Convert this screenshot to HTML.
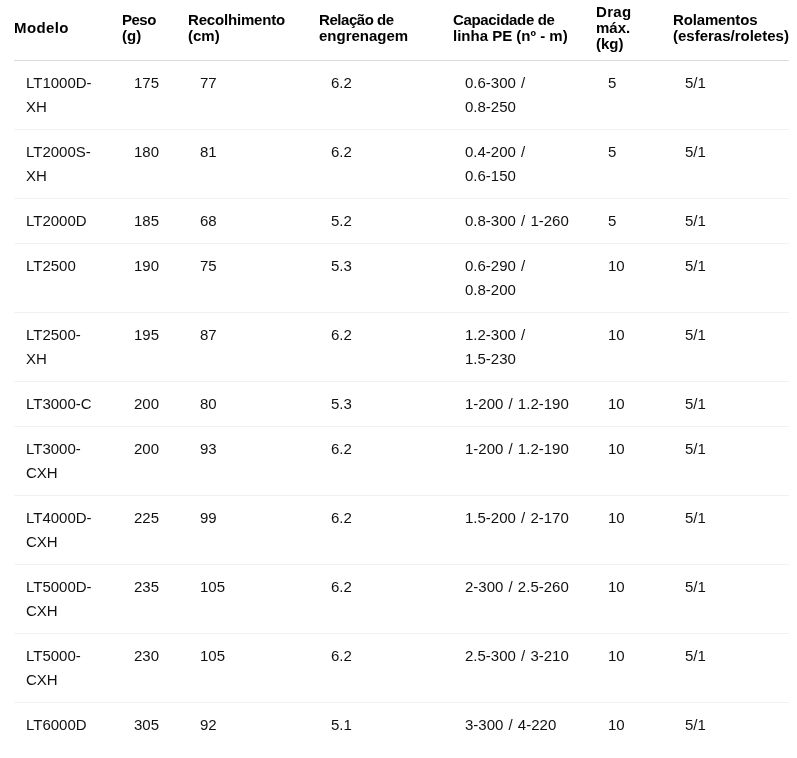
<!DOCTYPE html><html><head><meta charset="utf-8"><title>Tabela</title><style>
html,body{margin:0;padding:0;background:#fff;}
table{will-change:transform;}
body{width:797px;height:758px;overflow:hidden;position:relative;}
table{position:absolute;left:14px;top:-4px;border-collapse:collapse;table-layout:fixed;width:775px;
 font-family:"Liberation Sans",Arial,sans-serif;font-size:15px;}
th{font-weight:bold;color:#000;text-align:left;vertical-align:middle;line-height:16px;padding:8px 0 8px 0;border-bottom:1px solid #dcdcdc;white-space:nowrap;}
td{color:#111;word-spacing:1px;vertical-align:top;line-height:24px;padding:10px 0 10px 12px;border-bottom:1px solid #f2f2f2;white-space:nowrap;}
tr:last-child td{border-bottom:none;}
</style></head><body><table><colgroup>
<col style="width:108px">
<col style="width:66px">
<col style="width:131px">
<col style="width:134px">
<col style="width:143px">
<col style="width:77px">
<col style="width:116px">
</colgroup><thead><tr>
<th><span style="letter-spacing:0.4px">Modelo</span></th>
<th><span style="letter-spacing:-0.5px">Peso</span><br>(g)</th>
<th><span style="letter-spacing:-0.18px">Recolhimento</span><br>(cm)</th>
<th><span style="letter-spacing:-0.45px">Relação de</span><br>engrenagem</th>
<th><span style="letter-spacing:-0.33px">Capacidade de</span><br>linha PE (nº - m)</th>
<th><span style="letter-spacing:0.3px">Drag</span><br>máx.<br>(kg)</th>
<th><span style="letter-spacing:-0.15px">Rolamentos</span><br>(esferas/roletes)</th>
</tr></thead><tbody>
<tr><td>LT1000D-<br>XH</td><td>175</td><td>77</td><td>6.2</td><td>0.6-300 /<br>0.8-250</td><td>5</td><td>5/1</td></tr>
<tr><td>LT2000S-<br>XH</td><td>180</td><td>81</td><td>6.2</td><td>0.4-200 /<br>0.6-150</td><td>5</td><td>5/1</td></tr>
<tr><td>LT2000D</td><td>185</td><td>68</td><td>5.2</td><td>0.8-300 / 1-260</td><td>5</td><td>5/1</td></tr>
<tr><td>LT2500</td><td>190</td><td>75</td><td>5.3</td><td>0.6-290 /<br>0.8-200</td><td>10</td><td>5/1</td></tr>
<tr><td>LT2500-<br>XH</td><td>195</td><td>87</td><td>6.2</td><td>1.2-300 /<br>1.5-230</td><td>10</td><td>5/1</td></tr>
<tr><td>LT3000-C</td><td>200</td><td>80</td><td>5.3</td><td>1-200 / 1.2-190</td><td>10</td><td>5/1</td></tr>
<tr><td>LT3000-<br>CXH</td><td>200</td><td>93</td><td>6.2</td><td>1-200 / 1.2-190</td><td>10</td><td>5/1</td></tr>
<tr><td>LT4000D-<br>CXH</td><td>225</td><td>99</td><td>6.2</td><td>1.5-200 / 2-170</td><td>10</td><td>5/1</td></tr>
<tr><td>LT5000D-<br>CXH</td><td>235</td><td>105</td><td>6.2</td><td>2-300 / 2.5-260</td><td>10</td><td>5/1</td></tr>
<tr><td>LT5000-<br>CXH</td><td>230</td><td>105</td><td>6.2</td><td>2.5-300 / 3-210</td><td>10</td><td>5/1</td></tr>
<tr><td>LT6000D</td><td>305</td><td>92</td><td>5.1</td><td>3-300 / 4-220</td><td>10</td><td>5/1</td></tr>
</tbody></table></body></html>
